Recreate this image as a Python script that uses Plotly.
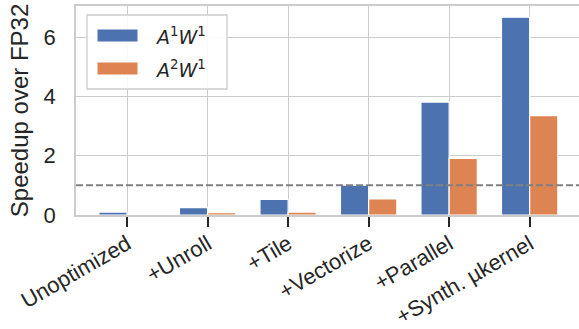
import plotly.graph_objects as go

# Optimization steps and measured speedups relative to FP32
steps = ["Unoptimized", "+Unroll", "+Tile", "+Vectorize", "+Parallel", "+Synth. µkernel"]
series_names = ["<i>A</i><sup>1</sup><i>W</i><sup>1</sup>", "<i>A</i><sup>2</sup><i>W</i><sup>1</sup>"]
speedup_a1w1 = [0.10, 0.25, 0.53, 1.01, 3.81, 6.67]
speedup_a2w1 = [0.02, 0.08, 0.10, 0.54, 1.91, 3.35]
baseline = 1.0
y_ticks = [0, 2, 4, 6]

colors = ["#4C72B0", "#DD8452"]
grid = "#cccccc"
ink = "#262626"
font_family = "Liberation Sans, Arial, sans-serif"

W, H = 579, 329
ML, MR, MT, MB = 76, 0, 6, 114
PW, PH = W - ML - MR, H - MT - MB

x_pos = list(range(len(steps)))

fig = go.Figure()
for name, vals, col in zip(series_names, [speedup_a1w1, speedup_a2w1], colors):
    fig.add_trace(go.Bar(
        x=x_pos, y=vals, name=name,
        marker=dict(color=col, line=dict(color="white", width=1.2)),
        showlegend=False,
    ))

# FP32 reference level
fig.add_shape(type="line", xref="x domain", yref="y", x0=0, x1=1, y0=baseline, y1=baseline,
              line=dict(color="#808080", width=2, dash="7px,3px"), layer="above")


def dx(px):
    return (px - ML) / PW


def dy(py):
    return 1 - (py - MT) / PH


# Legend box drawn in axis-domain coordinates
fig.add_shape(type="rect", xref="x domain", yref="y domain",
              x0=dx(87), x1=dx(227), y0=dy(89), y1=dy(15),
              line=dict(color=grid, width=1.3), fillcolor="rgba(255,255,255,0.85)", layer="above")
for i, (name, col) in enumerate(zip(series_names, colors)):
    top = 29 + i * 33
    fig.add_shape(type="rect", xref="x domain", yref="y domain",
                  x0=dx(97), x1=dx(138), y0=dy(top + 13), y1=dy(top),
                  line=dict(color="white", width=1), fillcolor=col, layer="above")
    fig.add_annotation(xref="x domain", yref="y domain", x=dx(153), y=dy(top + 7),
                       text=name, showarrow=False, xanchor="left", yanchor="middle",
                       font=dict(family="DejaVu Sans, sans-serif", size=19, color=ink))

fig.update_layout(
    width=W, height=H,
    margin=dict(l=ML, r=MR, t=MT, b=MB, autoexpand=False),
    paper_bgcolor="white", plot_bgcolor="white",
    barmode="group", bargap=0.3, bargroupgap=0,
    font=dict(family=font_family, size=20, color=ink),
)
fig.update_xaxes(
    automargin=False,
    range=[-0.635, 5.613], tickvals=x_pos, ticktext=steps, tickangle=-30,
    showgrid=True, gridcolor=grid, gridwidth=1.3,
    showline=True, mirror=True, linecolor=grid, linewidth=1.6,
    ticks="outside", ticklen=10, tickwidth=2, tickcolor=ink,
    ticklabelstandoff=-4,
    tickfont=dict(size=22, color=ink), zeroline=False,
)
fig.update_yaxes(
    automargin=False,
    range=[0, 7.05], tickvals=y_ticks,
    showgrid=True, gridcolor=grid, gridwidth=1.3,
    showline=True, mirror=True, linecolor=grid, linewidth=1.6,
    ticks="", ticklabelstandoff=14, zeroline=False,
    tickfont=dict(size=22, color=ink),
    title=dict(text="Speedup over FP32", font=dict(size=24, color=ink), standoff=8),
)

fig.write_html("out.html")
